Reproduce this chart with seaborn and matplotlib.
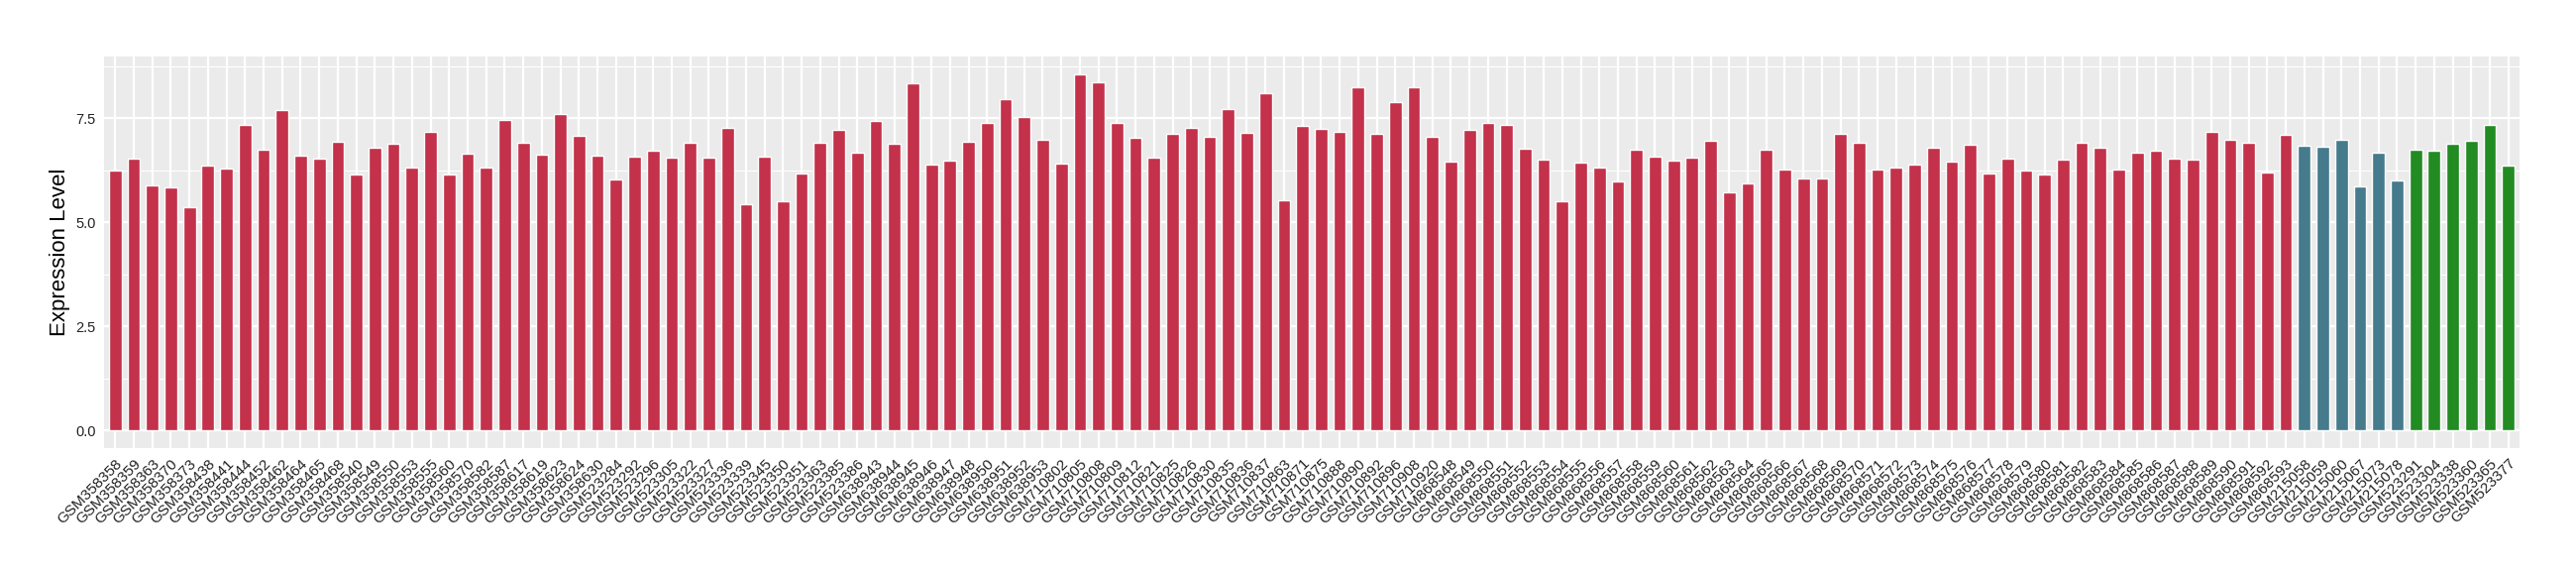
import matplotlib
matplotlib.use("Agg")
import matplotlib.pyplot as plt
import seaborn as sns
import pandas as pd
from matplotlib.ticker import MultipleLocator

red_samples = [
    "GSM358358", "GSM358359", "GSM358363", "GSM358370", "GSM358373", "GSM358438", "GSM358441",
    "GSM358444", "GSM358452", "GSM358462", "GSM358464", "GSM358465", "GSM358468", "GSM358540",
    "GSM358549", "GSM358550", "GSM358553", "GSM358555", "GSM358560", "GSM358570", "GSM358582",
    "GSM358587", "GSM358617", "GSM358619", "GSM358623", "GSM358624", "GSM358630",
    "GSM523284", "GSM523292", "GSM523296", "GSM523305", "GSM523322", "GSM523327", "GSM523336",
    "GSM523339", "GSM523345", "GSM523350", "GSM523351", "GSM523363", "GSM523385", "GSM523386",
    "GSM638943", "GSM638944", "GSM638945", "GSM638946", "GSM638947", "GSM638948", "GSM638950",
    "GSM638951", "GSM638952", "GSM638953",
    "GSM710802", "GSM710805", "GSM710808", "GSM710809", "GSM710812", "GSM710821", "GSM710825",
    "GSM710826", "GSM710830", "GSM710835", "GSM710836", "GSM710837", "GSM710863", "GSM710871",
    "GSM710875", "GSM710888", "GSM710890", "GSM710892", "GSM710896", "GSM710908", "GSM710920",
    "GSM868548", "GSM868549", "GSM868550", "GSM868551", "GSM868552", "GSM868553", "GSM868554",
    "GSM868555", "GSM868556", "GSM868557", "GSM868558", "GSM868559", "GSM868560", "GSM868561",
    "GSM868562", "GSM868563", "GSM868564", "GSM868565", "GSM868566", "GSM868567", "GSM868568",
    "GSM868569", "GSM868570", "GSM868571", "GSM868572", "GSM868573", "GSM868574", "GSM868575",
    "GSM868576", "GSM868577", "GSM868578", "GSM868579", "GSM868580", "GSM868581", "GSM868582",
    "GSM868583", "GSM868584", "GSM868585", "GSM868586", "GSM868587", "GSM868588", "GSM868589",
    "GSM868590", "GSM868591", "GSM868592", "GSM868593",
]
red_values = [
    6.24, 6.52, 5.88, 5.83, 5.36, 6.36, 6.29, 7.33, 6.74, 7.69,
    6.60, 6.52, 6.93, 6.14, 6.79, 6.88, 6.31, 7.17, 6.14, 6.64,
    6.31, 7.45, 6.90, 6.62, 7.60, 7.07, 6.60, 6.02, 6.57, 6.71,
    6.55, 6.90, 6.55, 7.26, 5.43, 6.57, 5.50, 6.17, 6.90, 7.21,
    6.67, 7.43, 6.88, 8.33, 6.38, 6.48, 6.93, 7.38, 7.95, 7.52,
    6.98, 6.40, 8.55, 8.36, 7.38, 7.02, 6.55, 7.12, 7.26, 7.05,
    7.71, 7.14, 8.10, 5.52, 7.31, 7.24, 7.17, 8.24, 7.12, 7.88,
    8.24, 7.05, 6.45, 7.21, 7.38, 7.33, 6.76, 6.50, 5.50, 6.43,
    6.31, 5.98, 6.74, 6.57, 6.48, 6.55, 6.95, 5.71, 5.93, 6.74,
    6.26, 6.05, 6.05, 7.12, 6.90, 6.26, 6.31, 6.38, 6.79, 6.45,
    6.86, 6.17, 6.52, 6.24, 6.14, 6.50, 6.90, 6.79, 6.26, 6.67,
    6.71, 6.52, 6.50, 7.17, 6.98, 6.90, 6.19, 7.10,
]
blue_samples = ["GSM215058", "GSM215059", "GSM215060", "GSM215067", "GSM215073", "GSM215078"]
blue_values = [6.83, 6.81, 6.98, 5.86, 6.67, 6.00]
green_samples = ["GSM523291", "GSM523304", "GSM523338", "GSM523360", "GSM523365", "GSM523377"]
green_values = [6.74, 6.71, 6.88, 6.95, 7.33, 6.36]

group_names = ["Group1", "Group2", "Group3"]
group_colors = ["#C3314A", "#457B8C", "#228B22"]

samples = red_samples + blue_samples + green_samples
values = red_values + blue_values + green_values
groups = ([group_names[0]] * len(red_samples) + [group_names[1]] * len(blue_samples)
          + [group_names[2]] * len(green_samples))

df = pd.DataFrame({"sample": samples, "value": values, "group": groups})

sns.set_theme(style="darkgrid")
plt.rcParams["font.family"] = ["Liberation Sans", "DejaVu Sans"]

fig = plt.figure(figsize=(26, 5.8), dpi=100)
ax = fig.add_axes([105 / 2600, 1 - 452 / 580, (2543 - 105) / 2600, (452 - 57) / 580])
ax.set_facecolor("#EBEBEB")

sns.barplot(data=df, x="sample", y="value", hue="group", order=samples,
            hue_order=group_names, palette=dict(zip(group_names, group_colors)),
            dodge=False, width=0.68, saturation=1, legend=False, ax=ax, zorder=3)

n = len(samples)
ax.set_xlim(-0.6, n - 1 + 0.6)
ymax = max(values) * 1.05
ax.set_ylim(-max(values) * 0.05, ymax)

ax.yaxis.set_major_locator(MultipleLocator(2.5))
ax.yaxis.set_minor_locator(MultipleLocator(1.25))
ax.grid(which="major", color="white", linewidth=1.6, zorder=0)
ax.grid(which="minor", axis="y", color="white", linewidth=0.8, zorder=0)
ax.set_axisbelow(True)
for s in ax.spines.values():
    s.set_visible(False)

ax.set_yticks([0, 2.5, 5.0, 7.5])
ax.set_yticklabels(["0.0", "2.5", "5.0", "7.5"])
ax.tick_params(axis="both", which="major", length=4, width=1, color="#333333",
               labelcolor="#222222", labelsize=10.5, pad=2)
ax.tick_params(axis="y", which="minor", length=0)
ax.tick_params(axis="x", labelsize=11, pad=2)
for lab in ax.get_xticklabels():
    lab.set_rotation(45)
    lab.set_ha("right")
    lab.set_va("top")
    lab.set_rotation_mode("anchor")

ax.set_xlabel("")
ax.set_ylabel("Expression Level", fontsize=16, color="black", labelpad=4)

fig.savefig("out.png", dpi=100, facecolor="white")
